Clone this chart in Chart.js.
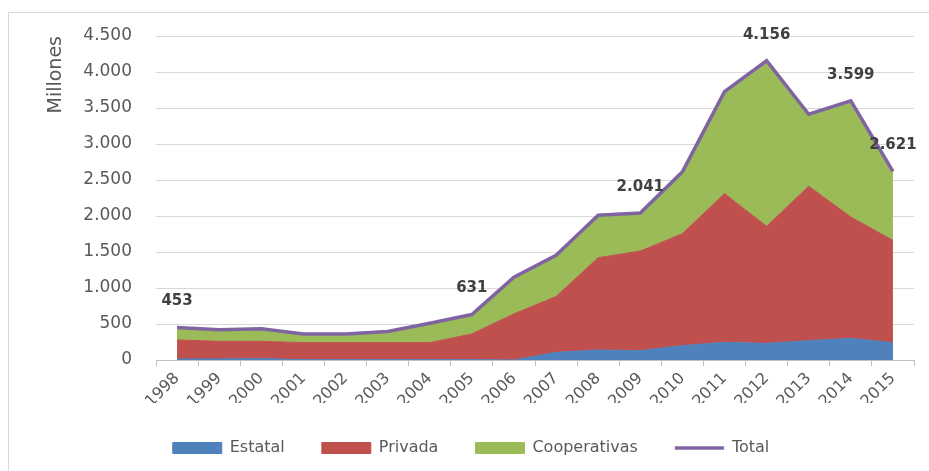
<!DOCTYPE html>
<html>
<head>
<meta charset="utf-8">
<title>Colocaciones por tipo de institución</title>
<script src="https://cdn.jsdelivr.net/npm/chart.js@4.4.1/dist/chart.umd.min.js"></script>
<style>
  html, body { margin: 0; padding: 0; background: #fff; }
  #marco { position: absolute; left: 8px; top: 12px; width: 960px; height: 500px; border: 1px solid #d9d9d9; }
  #caja { position: absolute; left: 0; top: 0; width: 929px; height: 471px; }
</style>
</head>
<body>
<div id="marco"></div>
<div id="caja"><canvas id="grafico"></canvas></div>
<script>
// años y montos (millones)
const anios = ['1998','1999','2000','2001','2002','2003','2004','2005','2006','2007','2008','2009','2010','2011','2012','2013','2014','2015'];
const estatal = [15, 15, 20, 5, 5, 5, 5, 5, 0, 106, 139, 130, 200, 245, 231, 269, 301, 241];
const privada = [264, 244, 239, 236, 236, 236, 236, 357, 641, 776, 1282, 1383, 1555, 2067, 1626, 2145, 1685, 1421];
const cooperativas = [174, 161, 176, 121, 121, 154, 269, 269, 510, 571, 589, 528, 858, 1416, 2299, 999, 1613, 959];
const total = [453, 420, 435, 362, 362, 395, 510, 631, 1151, 1453, 2010, 2041, 2613, 3728, 4156, 3413, 3599, 2621];
// años con el total rotulado
const aniosRotulados = ['1998', '2005', '2009', '2012', '2014', '2015'];
const ticksY = [0, 500, 1000, 1500, 2000, 2500, 3000, 3500, 4000, 4500];

const fuente = 'DejaVu Sans';
const gris = '#595959';

function miles(v) {
  return String(v).replace(/\B(?=(\d{3})+(?!\d))/g, '.');
}

// rótulos del total sobre la línea
const rotulos = {
  id: 'rotulos',
  afterDatasetsDraw(chart) {
    const ctx = chart.ctx;
    const meta = chart.getDatasetMeta(3);
    ctx.save();
    ctx.font = 'bold 15px "' + fuente + '"';
    ctx.fillStyle = '#404040';
    ctx.textAlign = 'center';
    ctx.textBaseline = 'middle';
    aniosRotulados.forEach(a => {
      const i = anios.indexOf(a);
      const p = meta.data[i];
      ctx.fillText(miles(total[i]), p.x, p.y - 26);
    });
    ctx.restore();
  }
};

const area = (label, data, color, fill) => ({
  label: label,
  data: data,
  backgroundColor: color,
  borderColor: color,
  borderWidth: 1,
  fill: fill,
  pointRadius: 0,
  pointStyle: 'rect',
  stack: 'areas',
  order: 1
});

Chart.defaults.font.family = fuente;
Chart.defaults.color = gris;

new Chart(document.getElementById('grafico'), {
  type: 'line',
  data: {
    labels: anios,
    datasets: [
      area('Estatal', estatal, '#4f81bd', 'origin'),
      area('Privada', privada, '#c0504d', '-1'),
      area('Cooperativas', cooperativas, '#9bbb59', '-1'),
      {
        label: 'Total',
        data: total,
        borderColor: '#8064a2',
        backgroundColor: '#8064a2',
        borderWidth: 3.5,
        fill: false,
        pointRadius: 0,
        pointStyle: 'line',
        stack: 'total',
        order: 0
      }
    ]
  },
  options: {
    responsive: true,
    maintainAspectRatio: false,
    animation: false,
    layout: { padding: { left: 28, right: 15, top: 36, bottom: 5 } },
    scales: {
      x: {
        offset: true,
        grid: { offset: true, drawOnChartArea: false, drawTicks: true, tickLength: 6, color: '#bfbfbf' },
        border: { display: true, color: '#bfbfbf' },
        ticks: { autoSkip: false, minRotation: 45, maxRotation: 45, padding: 3, color: gris, font: { size: 16 } },
        afterFit(s) { s.height = 43; }
      },
      y: {
        stacked: true,
        min: 0,
        max: 4500,
        afterBuildTicks(s) { s.ticks = ticksY.map(v => ({ value: v })); },
        ticks: { padding: 24, color: gris, font: { size: 17 }, callback: v => miles(v) },
        grid: { color: '#d9d9d9', drawTicks: false },
        border: { display: false },
        title: { display: true, text: 'Millones', align: 'end', color: gris, font: { size: 19 }, padding: { top: 17 } },
        afterFit(s) { s.width = 128; }
      }
    },
    plugins: {
      legend: {
        position: 'bottom',
        labels: {
          sort: (a, b) => a.datasetIndex - b.datasetIndex,
          usePointStyle: true,
          pointStyleWidth: 49,
          boxHeight: 11,
          padding: 37,
          color: gris,
          font: { size: 16 }
        }
      },
      tooltip: { enabled: false }
    }
  },
  plugins: [rotulos]
});
</script>
</body>
</html>
